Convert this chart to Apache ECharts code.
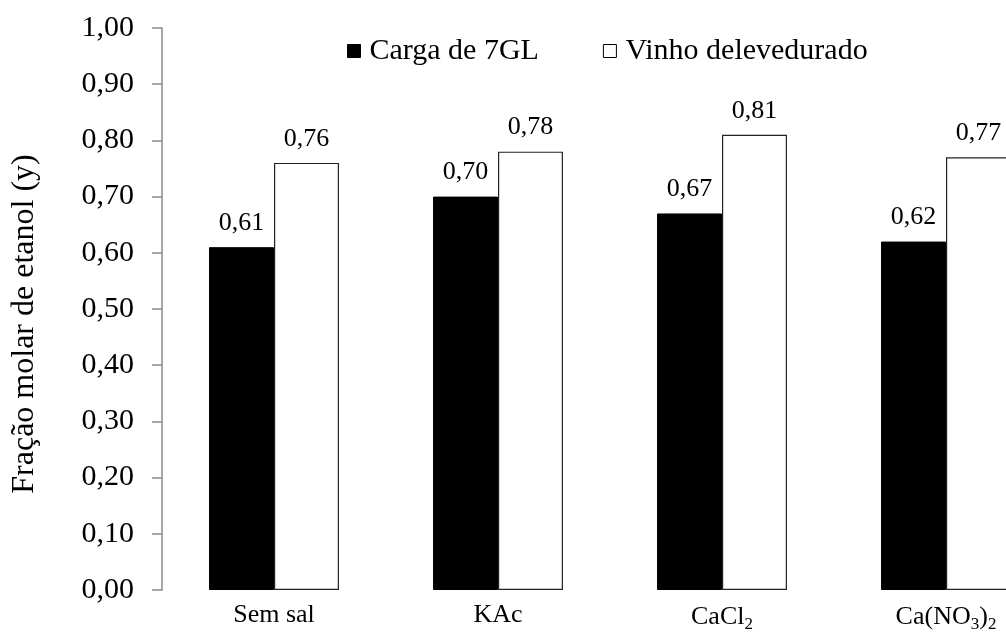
<!DOCTYPE html>
<html>
<head>
<meta charset="utf-8">
<script src="https://cdn.jsdelivr.net/npm/echarts@6/dist/echarts.min.js"></script>
<style>
  html, body { margin: 0; padding: 0; background: #fff; }
  #chart { width: 1006px; height: 644px; }
</style>
</head>
<body>
<div id="chart"></div>
<script>
// Salts tested (rich-text keys handle the subscripts)
const categories = ['Sem sal', 'KAc', 'CaCl{s|2}', 'Ca(NO{s|3}){s|2}'];
const seriesNames = ['Carga de 7GL', 'Vinho delevedurado'];
const carga7GL = [0.61, 0.70, 0.67, 0.62];
const vinhoDelevedurado = [0.76, 0.78, 0.81, 0.77];
const yTicks = [0, 0.1, 0.2, 0.3, 0.4, 0.5, 0.6, 0.7, 0.8, 0.9, 1.0];

const FONT = '"Liberation Serif", "Times New Roman", serif';
const fmt = v => v.toFixed(2).replace('.', ',');

const chart = echarts.init(document.getElementById('chart'), null, { renderer: 'canvas' });

chart.setOption({
  backgroundColor: '#ffffff',
  animation: false,
  textStyle: { fontFamily: FONT, color: '#000' },
  legend: {
    top: 31,
    left: 342,
    itemWidth: 13,
    itemHeight: 13,
    itemGap: 64,
    icon: 'rect',
    textStyle: { fontFamily: FONT, fontSize: 30, color: '#000', padding: [0, 0, 0, 4] },
    data: [
      { name: seriesNames[0], itemStyle: { color: '#000', borderColor: '#000', borderWidth: 1 } },
      { name: seriesNames[1], itemStyle: { color: '#fff', borderColor: '#000', borderWidth: 1 } }
    ]
  },
  grid: {
    left: 162,
    top: 28,
    right: -52,
    bottom: 54,
    outerBoundsMode: 'none',
    containLabel: false
  },
  xAxis: {
    type: 'category',
    data: categories,
    axisLine: { show: false },
    axisTick: { show: false },
    axisLabel: {
      interval: 0,
      margin: 12,
      fontFamily: FONT,
      fontSize: 26,
      color: '#000',
      rich: {
        s: { fontFamily: FONT, fontSize: 17, color: '#000', padding: [14, 0, 0, 0] }
      }
    }
  },
  yAxis: {
    type: 'value',
    min: 0,
    max: 1,
    interval: 0.1,
    name: 'Fração molar de etanol (y)',
    nameLocation: 'middle',
    nameGap: 121,
    nameTextStyle: { fontFamily: FONT, fontSize: 32, color: '#000', padding: [0, 30, 0, 0] },
    axisLine: { show: true, lineStyle: { color: '#8c8c8c', width: 1.5 } },
    axisTick: { show: true, inside: false, length: 10, lineStyle: { color: '#8c8c8c', width: 1.5 } },
    splitLine: { show: false },
    axisLabel: {
      margin: 28,
      fontFamily: FONT,
      fontSize: 30,
      color: '#000',
      customValues: yTicks,
      formatter: v => fmt(v)
    }
  },
  series: [
    {
      name: seriesNames[0],
      type: 'bar',
      data: carga7GL,
      barGap: '0%',
      barCategoryGap: '42%',
      itemStyle: { color: '#000', borderColor: '#000', borderWidth: 1 },
      label: {
        show: true, position: 'top', distance: 11,
        fontFamily: FONT, fontSize: 26, color: '#000',
        formatter: p => fmt(p.value)
      }
    },
    {
      name: seriesNames[1],
      type: 'bar',
      data: vinhoDelevedurado,
      barGap: '0%',
      barCategoryGap: '42%',
      itemStyle: { color: '#fff', borderColor: '#222', borderWidth: 1.2 },
      label: {
        show: true, position: 'top', distance: 11,
        fontFamily: FONT, fontSize: 26, color: '#000',
        formatter: p => fmt(p.value)
      }
    }
  ]
});
</script>
</body>
</html>
